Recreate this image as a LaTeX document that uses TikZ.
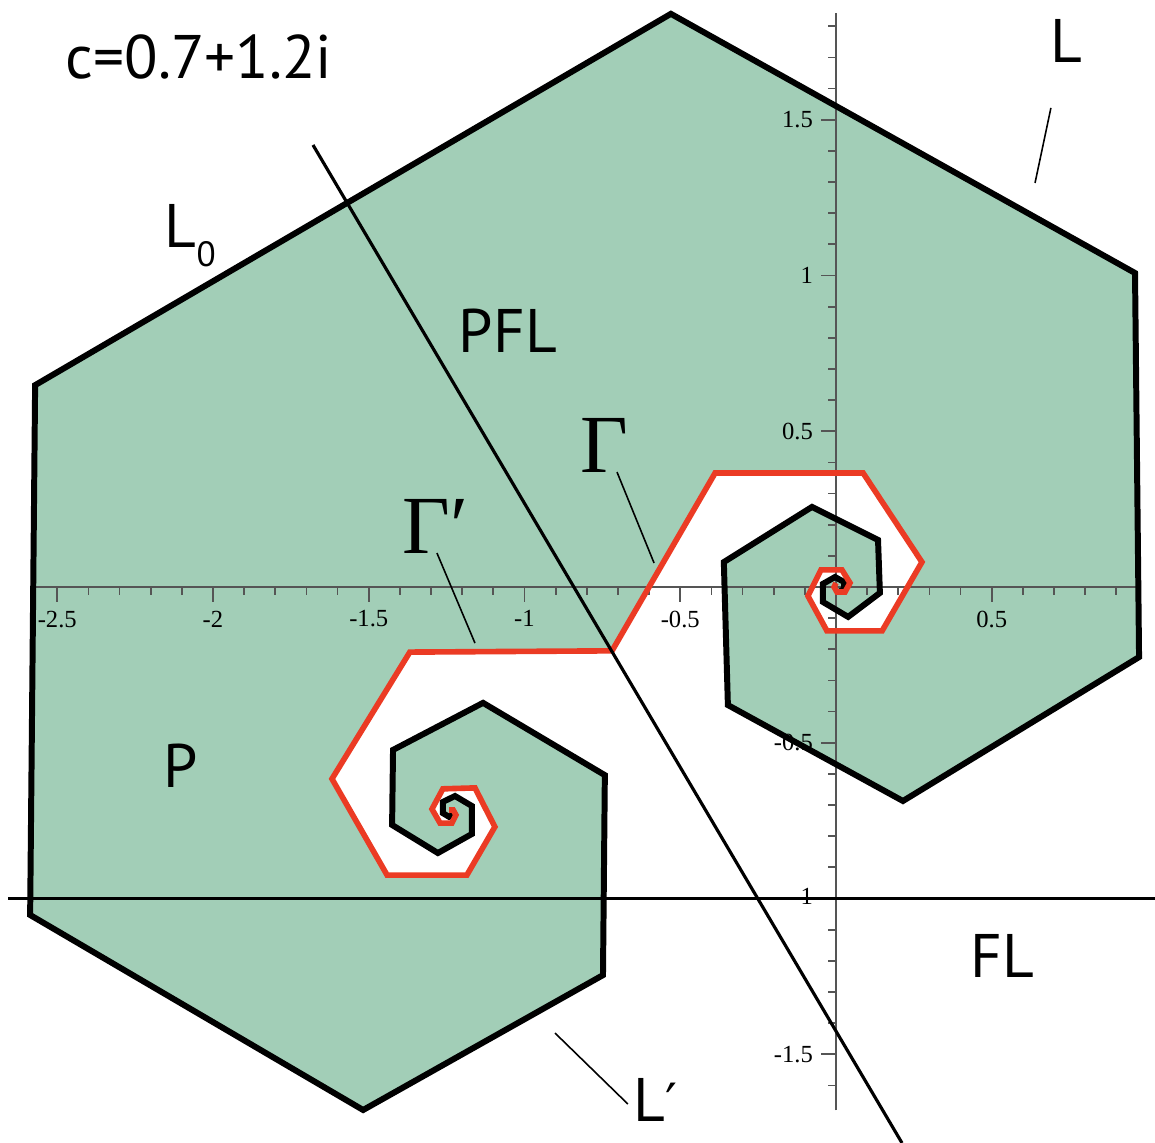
\documentclass[tikz,border=0pt]{standalone}
\usepackage{fontspec}
\setmainfont{Liberation Serif}
\newfontfamily\labfont{PT Sans}
\newfontfamily\primefont{DejaVu Sans}
\definecolor{region}{RGB}{162,206,183}
\definecolor{spiral}{RGB}{235,59,36}
\definecolor{axisgray}{RGB}{85,85,85}

\begin{document}
\begin{tikzpicture}[x=3.115cm,y=3.115cm,
    every node/.style={inner sep=0pt},
    bdry/.style={black,line width=1.7pt},
    redbdry/.style={spiral,line width=1.6pt},
    axisline/.style={axisgray,line width=0.6pt},
    tickmark/.style={axisgray,line width=0.5pt},
    num/.style={font=\fontsize{7}{8}\selectfont},
    lab/.style={font=\labfont\fontsize{17.5}{18}\selectfont,anchor=base west},
    gam/.style={font=\fontsize{23.5}{24}\selectfont,anchor=base west},
    lead/.style={black,line width=0.45pt},
    thinline/.style={black,line width=0.9pt}
]
\useasboundingbox (-2.6838,-1.7849) rectangle (1.0241,1.8844);

% black boundary: left spiral outwards, then right spiral inwards
\foreach \n/\x/\y in {1/-1.226/-0.729, 2/-1.242/-0.738, 3/-1.262/-0.726, 4/-1.262/-0.690,
    5/-1.223/-0.671, 6/-1.169/-0.703, 7/-1.169/-0.793, 8/-1.278/-0.854,
    9/-1.425/-0.764, 10/-1.422/-0.523, 11/-1.133/-0.372, 12/-0.742/-0.604,
    13/-0.748/-1.246, 14/-1.518/-1.679, 15/-2.587/-1.053, 16/-2.571/0.648,
    17/-0.530/1.840, 18/0.960/1.008, 19/0.973/-0.225, 20/0.215/-0.687,
    21/-0.347/-0.379, 22/-0.360/0.080, 23/-0.077/0.257, 24/0.135/0.151,
    25/0.141/-0.019, 26/0.039/-0.096, 27/-0.042/-0.048, 28/-0.042/0.010,
    29/-0.003/0.032, 30/0.026/0.016, 31/0.026/-0.006, 32/0.010/-0.016}
  \coordinate (k\n) at (\x,\y);

% red boundary: right spiral outwards, then left spiral inwards
\foreach \n/\x/\y in {1/0.000/0.013, 2/-0.006/0.000, 3/0.003/-0.016, 4/0.029/-0.016,
    5/0.045/0.013, 6/0.019/0.055, 7/-0.048/0.055, 8/-0.090/-0.029,
    9/-0.029/-0.141, 10/0.148/-0.141, 11/0.276/0.080, 12/0.087/0.366,
    13/-0.388/0.366, 14/-0.719/-0.205, 15/-1.368/-0.209, 16/-1.618/-0.616,
    17/-1.441/-0.925, 18/-1.185/-0.925, 19/-1.095/-0.770, 20/-1.159/-0.645,
    21/-1.262/-0.648, 22/-1.297/-0.713, 23/-1.271/-0.758, 24/-1.233/-0.758,
    25/-1.220/-0.732, 26/-1.229/-0.716, 27/-1.242/-0.716}
  \coordinate (r\n) at (\x,\y);

\fill[region] (k1) \foreach \i in {2,...,32}{-- (k\i)} \foreach \i in {1,...,27}{-- (r\i)} -- cycle;

% axes
\draw[axisline] (-2.58,0) -- (0.976,0);
\draw[axisline] (0,-1.68) -- (0,1.843);
\foreach \t in {-25,...,-1,1,2,...,9}
  \draw[tickmark] (\t/10,0) -- ++(0,-0.026);
\foreach \t in {-2.5,-2,-1.5,-1,-0.5,0.5}
  \draw[tickmark] (\t,0) -- ++(0,-0.048);
\foreach \t in {-16,...,-1,1,2,...,18}
  \draw[tickmark] (0,\t/10) -- ++(-0.026,0);
\foreach \t in {-1.5,-1,-0.5,0.5,1,1.5}
  \draw[tickmark] (0,\t) -- ++(-0.048,0);
\foreach \t [count=\i] in {-2.5,-2,-1.5,-1,-0.5,0.5}
  \node[num,anchor=north] (xt\i) at (\t,-0.074) {\t};
\foreach \t [count=\i] in {-1.5,-0.5,0.5,1,1.5}
  \node[num,anchor=east] (yt\i) at (-0.072,\t) {\t};
\node[num,anchor=east] (ytm) at (-0.072,-0.994) {-1};

\draw[bdry] (k1) \foreach \i in {2,...,32}{-- (k\i)};
\draw[redbdry] (r1) \foreach \i in {2,...,27}{-- (r\i)};

% FL and PFL
\draw[thinline] (-2.658,-1) -- (1.0241,-1);
\draw[thinline] (-1.679,1.419) -- (0.212,-1.785);

% labels
\node[lab] (cval) at (-2.475,1.634) {c=0.7+1.2i};
\node[lab] (ltop) at (0.685,1.684) {L};
\node[lab] (lzero) at (-2.157,1.091) {L\raisebox{-5.5pt}{\fontsize{10}{10}\selectfont 0}};
\node[lab] (pfl) at (-1.213,0.754) {PFL};
\node[lab] (pp) at (-2.161,-0.645) {P};
\node[lab] (fl) at (0.430,-1.255) {FL};
\node[lab] (lprime) at (-0.652,-1.717) {L{\primefont\fontsize{15}{15}\selectfont ′}};
\node[gam] (gam) at (-0.822,0.369) {Γ};
\node[gam] (gamp) at (-1.393,0.109) {Γ′};

% leaders
\coordinate (gam1) at (-0.703,0.369);  \coordinate (gam2) at (-0.584,0.077);
\coordinate (gamp1) at (-1.281,0.109); \coordinate (gamp2) at (-1.159,-0.180);
\coordinate (ltop1) at (0.690,1.538);  \coordinate (ltop2) at (0.639,1.297);
\coordinate (lpr1) at (-0.902,-1.432); \coordinate (lpr2) at (-0.668,-1.660);
\draw[lead] (gam1) -- (gam2);
\draw[lead] (gamp1) -- (gamp2);
\draw[lead] (ltop1) -- (ltop2);
\draw[lead] (lpr1) -- (lpr2);
\end{tikzpicture}
\end{document}
